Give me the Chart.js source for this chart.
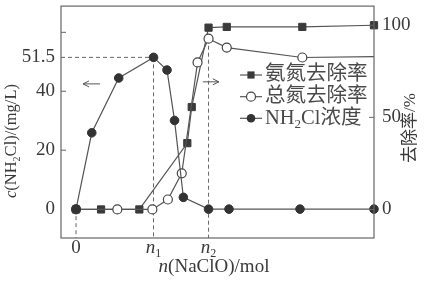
<!DOCTYPE html>
<html>
<head>
<meta charset="utf-8">
<script src="https://cdn.jsdelivr.net/npm/chart.js@4.4.1/dist/chart.umd.min.js"></script>
<style>
  html, body { margin: 0; padding: 0; background: #fff; }
  #wrap { width: 426px; height: 281px; }
</style>
</head>
<body>
<div id="wrap"><canvas id="myChart" width="426" height="281"></canvas></div>
<script>
// x is measured in units of n1 (n1 = 1)
const N1 = 1
const N2 = 1.71
const X_MAX = 3.845

const nh2clX = [0, 0.203, 0.551, N1, 1.174, 1.271, 1.385, N2, 1.974, 2.89, X_MAX]
const nh2clY = [0, 25.9, 44.5, 51.5, 47.2, 30.1, 4.0, 0, 0, 0, 0]

const ammoniaX = [0, 0.323, 0.817, 1.436, 1.493, N2, 1.945, 2.92, X_MAX]
const ammoniaY = [0, 0, 0, 36.0, 55.6, 98.7, 99.1, 99.1, 100]

const totalNX = [0, 0.533, 0.985, 1.185, 1.364, 1.568, N2, 1.945, 2.92, X_MAX]
const totalNY = [0, 0, 0, 5.4, 19.6, 79.8, 92.7, 87.9, 82.5, 83]

const leftTicks = [0, 20, 40, 51.5, 60]
const leftLabels = ['0', '20', '40', '51.5', '']
const rightTicks = [0, 50, 100]
const xTicks = [0, N1, N2]
const xLabels = [['0', ''], ['n', '1'], ['n', '2']]

const serif = '"Liberation Serif", "Noto Sans CJK SC", serif'
const ink = '#3a3a3a'
const lineCol = '#555'

const pts = (xs, ys) => xs.map((x, i) => ({ x: x, y: ys[i] }))

// draw text made of pieces: {t, it (italic), sub}
function rich(ctx, pieces, x, y, size, align) {
  const fontOf = p => (p.it ? 'italic ' : '') + (p.sub ? Math.round(size * 0.62) : size) + 'px ' + serif
  let w = 0
  pieces.forEach(p => { ctx.font = fontOf(p); w += ctx.measureText(p.t).width })
  let cx = align === 'center' ? x - w / 2 : x
  ctx.textAlign = 'left'
  ctx.textBaseline = 'middle'
  pieces.forEach(p => {
    ctx.font = fontOf(p)
    ctx.fillText(p.t, cx, p.sub ? y + size * 0.3 : y)
    cx += ctx.measureText(p.t).width
  })
}

function seg(ctx, x1, y1, x2, y2) {
  ctx.beginPath()
  ctx.moveTo(x1, y1)
  ctx.lineTo(x2, y2)
  ctx.stroke()
}

function arrow(ctx, x1, x2, yy) {
  seg(ctx, x1, yy, x2, yy)
  const d = x2 > x1 ? -1 : 1
  seg(ctx, x2, yy, x2 + d * 6, yy - 3)
  seg(ctx, x2, yy, x2 + d * 6, yy + 3)
}

const noPad = s => { s.paddingTop = 0; s.paddingBottom = 0; s.paddingLeft = 0; s.paddingRight = 0 }

const deco = {
  id: 'deco',
  beforeDatasetsDraw(chart) {
    const { ctx, scales: { x, y, y2 } } = chart
    const a = chart.chartArea
    ctx.save()
    ctx.strokeStyle = '#666'
    ctx.lineWidth = 1
    ctx.setLineDash([4, 3])
    const p1 = x.getPixelForValue(N1)
    const yPeak = y.getPixelForValue(51.5)
    seg(ctx, a.left, yPeak, p1, yPeak)
    seg(ctx, p1, yPeak, p1, a.bottom)
    const p2 = x.getPixelForValue(N2)
    seg(ctx, p2, y2.getPixelForValue(92.7), p2, a.bottom)
    const p0 = x.getPixelForValue(0)
    seg(ctx, p0, y.getPixelForValue(0), p0, a.bottom)
    ctx.restore()
  },
  afterDraw(chart) {
    const { ctx, scales: { x, y, y2 } } = chart
    const a = chart.chartArea
    ctx.save()
    // frame
    ctx.strokeStyle = '#666'
    ctx.lineWidth = 1.2
    ctx.strokeRect(a.left, a.top, a.right - a.left, a.bottom - a.top)
    // inward tick marks
    ctx.lineWidth = 1
    ;[20, 40, 60].forEach(v => {
      const py = y.getPixelForValue(v)
      seg(ctx, a.left, py, a.left + 5, py)
    })
    rightTicks.forEach(v => {
      const py = y2.getPixelForValue(v)
      seg(ctx, a.right - 5, py, a.right, py)
    })
    // arrows
    ctx.strokeStyle = '#555'
    arrow(ctx, x.getPixelForValue(0.31), x.getPixelForValue(0.09), y.getPixelForValue(42.5))
    arrow(ctx, x.getPixelForValue(1.636), x.getPixelForValue(1.843), y.getPixelForValue(43.2))

    ctx.fillStyle = ink
    // x tick labels
    xTicks.forEach((v, i) => {
      const px = x.getPixelForValue(v)
      const l = xLabels[i]
      const pieces = l[1] ? [{ t: l[0], it: true }, { t: l[1], sub: true }] : [{ t: l[0] }]
      rich(ctx, pieces, px, 248, 19, 'center')
    })
    // x title
    rich(ctx, [{ t: 'n', it: true }, { t: '(NaClO)/mol' }], 214, 267, 19, 'center')
    // left title
    ctx.save()
    ctx.translate(12, 141)
    ctx.rotate(-Math.PI / 2)
    rich(ctx, [{ t: 'c', it: true }, { t: '(NH' }, { t: '2', sub: true }, { t: 'Cl)/(mg/L)' }], 0, 0, 16.5, 'center')
    ctx.restore()
    // right title
    ctx.save()
    ctx.translate(411, 128)
    ctx.rotate(-Math.PI / 2)
    rich(ctx, [{ t: '去除率/%' }], 0, 0, 17, 'center')
    ctx.restore()

    // legend
    const rows = [75, 96.7, 118.3]
    const names = [
      [{ t: '氨氮去除率' }],
      [{ t: '总氮去除率' }],
      [{ t: 'NH' }, { t: '2', sub: true }, { t: 'Cl浓度' }]
    ]
    rows.forEach((ry, i) => {
      ctx.strokeStyle = lineCol
      ctx.lineWidth = 1.2
      seg(ctx, 240, ry, 262, ry)
      ctx.beginPath()
      if (i === 0) {
        ctx.fillStyle = '#3a3a3a'
        ctx.fillRect(251 - 3.6, ry - 3.6, 7.2, 7.2)
      } else if (i === 1) {
        ctx.arc(251, ry, 4.5, 0, Math.PI * 2)
        ctx.fillStyle = '#fff'
        ctx.fill()
        ctx.strokeStyle = '#444'
        ctx.stroke()
      } else {
        ctx.arc(251, ry, 4.3, 0, Math.PI * 2)
        ctx.fillStyle = '#333'
        ctx.fill()
      }
      ctx.fillStyle = '#4a4a4a'
      rich(ctx, names[i], 265, ry, 20.5, 'left')
    })
    ctx.restore()
  }
}

const ctx = document.getElementById('myChart')
const totalRadius = totalNX.map((v, i) => i === totalNX.length - 1 ? 0 : 4.5)

const myChart = new Chart(ctx, {
  type: 'scatter',
  data: {
    datasets: [
      {
        label: 'NH2Cl浓度',
        data: pts(nh2clX, nh2clY),
        yAxisID: 'y',
        showLine: true,
        borderColor: lineCol,
        borderWidth: 1.2,
        pointStyle: 'circle',
        pointRadius: 4.3,
        pointBackgroundColor: '#333',
        pointBorderColor: '#333',
        pointBorderWidth: 1,
        order: 0,
        clip: false
      },
      {
        label: '总氮去除率',
        data: pts(totalNX, totalNY),
        yAxisID: 'y2',
        showLine: true,
        borderColor: lineCol,
        borderWidth: 1.2,
        pointStyle: 'circle',
        pointRadius: totalRadius,
        pointBackgroundColor: '#fff',
        pointBorderColor: '#444',
        pointBorderWidth: 1.2,
        order: 1,
        clip: false
      },
      {
        label: '氨氮去除率',
        data: pts(ammoniaX, ammoniaY),
        yAxisID: 'y2',
        showLine: true,
        borderColor: lineCol,
        borderWidth: 1.2,
        pointStyle: 'rect',
        pointRadius: 5.1,
        pointBackgroundColor: '#3a3a3a',
        pointBorderColor: '#3a3a3a',
        pointBorderWidth: 1,
        order: 2,
        clip: false
      }
    ]
  },
  options: {
    responsive: false,
    animation: false,
    devicePixelRatio: 1,
    layout: { padding: { top: 5, left: 0, right: 0, bottom: 0 } },
    plugins: { legend: { display: false }, tooltip: { enabled: false } },
    scales: {
      x: {
        type: 'linear',
        min: -0.194,
        max: X_MAX,
        grid: { display: false, drawTicks: false },
        border: { display: false },
        ticks: { display: false },
        afterFit: s => { s.height = 43; noPad(s) }
      },
      y: {
        position: 'left',
        min: -9.8,
        max: 68.9,
        grid: { display: false, drawTicks: false },
        border: { display: false },
        afterBuildTicks: s => { s.ticks = leftTicks.map(v => ({ value: v })) },
        ticks: {
          padding: 6,
          color: ink,
          font: { family: serif, size: 19 },
          callback: v => leftLabels[leftTicks.indexOf(v)]
        },
        afterFit: s => { s.width = 61; noPad(s) }
      },
      y2: {
        position: 'right',
        min: -15.5,
        max: 110.4,
        grid: { display: false, drawTicks: false },
        border: { display: false },
        afterBuildTicks: s => { s.ticks = rightTicks.map(v => ({ value: v })) },
        ticks: {
          padding: 8,
          color: ink,
          font: { family: serif, size: 19 },
          callback: v => String(v)
        },
        afterFit: s => { s.width = 52; noPad(s) }
      }
    }
  },
  plugins: [deco]
})
</script>
</body>
</html>
